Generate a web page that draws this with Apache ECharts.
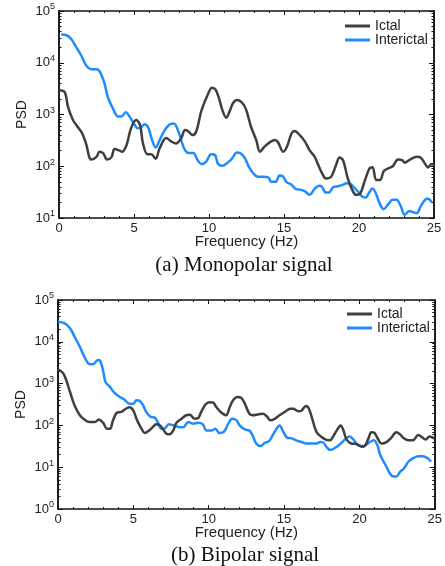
<!DOCTYPE html>
<html>
<head>
<meta charset="utf-8">
<script src="https://cdn.jsdelivr.net/npm/echarts@6/dist/echarts.min.js"></script>
<style>
html, body { margin: 0; padding: 0; background: #fff; }
#main { width: 445px; height: 566px; }
</style>
</head>
<body>
<div id="main"></div>
<script>
var chart = echarts.init(document.getElementById('main'));

// (a) monopolar - ictal
var monoIctalF = [0, 0.38, 0.6, 0.93, 1.2, 1.55, 1.8, 2.15, 2.5, 2.7, 2.95, 3.2, 3.5, 3.7, 4.05, 4.2, 4.5, 4.8, 5.15, 5.4, 5.6, 5.9, 6.15, 6.45, 6.7, 7.15, 7.5, 7.8, 8.15, 8.4, 8.6, 8.9, 9.15, 9.5, 9.95, 10.2, 10.45, 10.7, 10.9, 11.15, 11.4, 11.6, 11.85, 12.15, 12.45, 12.8, 13.15, 13.4, 13.7, 14.05, 14.4, 14.6, 14.95, 15.2, 15.5, 15.7, 16.05, 16.4, 16.7, 17.05, 17.25, 17.55, 17.8, 18.15, 18.5, 18.7, 18.95, 19.25, 19.55, 19.8, 20.05, 20.4, 20.7, 20.9, 21.15, 21.4, 21.65, 21.95, 22.25, 22.6, 22.9, 23.05, 23.4, 23.85, 24.1, 24.4, 24.6, 24.85, 25];
var monoIctalV = [2950, 2700, 1400, 780, 600, 430, 275, 135, 152, 190, 178, 135, 150, 215, 200, 190, 255, 540, 780, 630, 275, 170, 170, 140, 220, 350, 300, 275, 350, 500, 480, 400, 470, 1200, 2550, 3300, 3000, 1900, 1200, 870, 1200, 1650, 1900, 1750, 1300, 580, 320, 190, 240, 290, 320, 290, 190, 240, 430, 480, 400, 300, 205, 152, 112, 72, 58, 63, 112, 148, 128, 58, 35, 28, 29, 54, 91, 96, 54, 54, 81, 91, 100, 135, 130, 117, 135, 152, 148, 112, 95, 110, 105];

// (a) monopolar - interictal
var monoInterF = [0.15, 0.5, 0.8, 1.15, 1.5, 1.8, 2.15, 2.5, 2.7, 3.0, 3.25, 3.6, 3.95, 4.15, 4.45, 4.7, 5.05, 5.25, 5.5, 5.7, 5.95, 6.15, 6.45, 6.7, 7.05, 7.4, 7.65, 7.95, 8.15, 8.4, 8.65, 8.95, 9.25, 9.5, 9.8, 10.15, 10.4, 10.6, 10.9, 11.15, 11.4, 11.6, 11.85, 12.1, 12.4, 12.65, 12.95, 13.25, 13.6, 13.95, 14.15, 14.45, 14.7, 14.95, 15.15, 15.5, 15.8, 16.15, 16.45, 16.7, 17.05, 17.35, 17.5, 17.8, 18.0, 18.25, 18.6, 18.95, 19.15, 19.4, 19.6, 19.95, 20.2, 20.45, 20.65, 20.9, 21.1, 21.4, 21.65, 21.95, 22.25, 22.5, 22.8, 23.05, 23.35, 23.6, 23.85, 24.1, 24.4, 24.6, 24.85];
var monoInterV = [35000, 34000, 29000, 20000, 13500, 9000, 7500, 7500, 6900, 4300, 2200, 1300, 910, 910, 1100, 910, 630, 540, 580, 650, 560, 360, 230, 315, 500, 650, 670, 480, 315, 205, 180, 180, 130, 110, 122, 170, 165, 112, 102, 112, 128, 150, 185, 178, 142, 98, 73, 63, 63, 61, 50, 50, 66, 63, 50, 44, 36, 35, 32, 28, 37, 42, 41, 31, 31, 39, 41, 44, 47, 46, 41, 32, 26, 25, 30, 37, 31, 18.5, 14.8, 18.5, 22.5, 22.5, 16.5, 11.5, 13.6, 13, 12.3, 16.5, 22.5, 23.5, 20];

// (b) bipolar - ictal
var bipIctalF = [0, 0.33, 0.55, 0.8, 1.1, 1.45, 1.75, 2.1, 2.45, 2.7, 3.0, 3.25, 3.45, 3.65, 3.9, 4.2, 4.5, 4.75, 5.0, 5.25, 5.55, 5.75, 6.05, 6.3, 6.5, 6.75, 6.95, 7.2, 7.4, 7.65, 7.85, 8.2, 8.5, 8.75, 9.05, 9.3, 9.5, 9.8, 10.05, 10.3, 10.5, 10.85, 11.15, 11.4, 11.6, 11.9, 12.15, 12.4, 12.7, 12.95, 13.3, 13.6, 13.85, 14.1, 14.4, 14.7, 15.05, 15.4, 15.6, 15.95, 16.15, 16.45, 16.65, 16.9, 17.15, 17.45, 17.8, 18.05, 18.25, 18.5, 18.75, 18.9, 19.15, 19.45, 19.8, 20.15, 20.35, 20.6, 20.8, 21.0, 21.25, 21.45, 21.8, 22.1, 22.45, 22.7, 22.95, 23.25, 23.55, 23.9, 24.1, 24.4, 24.65, 24.95];
var bipIctalV = [2200, 1800, 1200, 630, 300, 175, 138, 120, 120, 138, 115, 83, 83, 132, 200, 210, 250, 270, 225, 132, 83, 66, 76, 92, 106, 100, 83, 63, 61, 76, 115, 145, 175, 180, 145, 150, 210, 320, 360, 350, 275, 200, 175, 275, 390, 480, 460, 330, 190, 175, 185, 190, 165, 132, 145, 175, 210, 250, 250, 218, 225, 290, 250, 132, 70, 54, 45, 44, 54, 76, 100, 83, 46, 37, 36, 31, 32, 49, 69, 66, 46, 37, 40, 50, 69, 61, 49, 44, 44, 59, 54, 46, 54, 49];

// (b) bipolar - interictal
var bipInterF = [0, 0.45, 0.8, 1.1, 1.45, 1.75, 2.1, 2.3, 2.65, 2.8, 3.0, 3.15, 3.45, 3.75, 4.1, 4.4, 4.75, 5.0, 5.2, 5.4, 5.65, 5.85, 6.15, 6.4, 6.65, 6.85, 7.1, 7.35, 7.65, 8.0, 8.3, 8.65, 8.95, 9.3, 9.6, 9.85, 10.2, 10.45, 10.7, 11.0, 11.3, 11.55, 11.85, 12.05, 12.4, 12.7, 12.9, 13.15, 13.45, 13.7, 14.0, 14.25, 14.5, 14.7, 14.95, 15.2, 15.5, 15.8, 16.15, 16.5, 16.8, 17.15, 17.4, 17.6, 17.8, 18.05, 18.25, 18.5, 18.8, 19.15, 19.35, 19.6, 19.85, 20.15, 20.35, 20.7, 20.95, 21.2, 21.35, 21.55, 21.8, 22.0, 22.25, 22.45, 22.7, 22.95, 23.25, 23.55, 23.9, 24.2, 24.55, 24.75];
var bipInterV = [30000, 27600, 21000, 13200, 7600, 4400, 2900, 2900, 3650, 3500, 2000, 1100, 830, 600, 480, 415, 330, 330, 400, 390, 300, 210, 160, 155, 115, 83, 85, 107, 100, 92, 90, 121, 110, 115, 107, 76, 76, 83, 66, 70, 110, 145, 132, 100, 80, 75, 59, 37, 32, 38, 42, 59, 83, 100, 70, 51, 49, 44, 40, 37, 37, 37, 40, 39, 31, 26, 27, 31, 38, 50, 54, 46, 35, 32, 33, 40, 44, 33, 21, 14.8, 10.2, 7.3, 6, 6, 7.8, 9.3, 13.5, 16.2, 18.4, 18.4, 16.2, 13.5];

var seriesNames = ['Ictal', 'Interictal'];
var seriesColors = ['#3f3f3f', '#1e8cff'];
var freqMin = 0, freqMax = 25, freqStep = 5;
var topDecades = [1, 5];   // 10^1 .. 10^5
var botDecades = [0, 5];   // 10^0 .. 10^5
var captions = ['(a) Monopolar signal', '(b) Bipolar signal'];

function pairs(f, v) {
    return f.map(function (x, i) { return [x, v[i]]; });
}
function majorLog(r) {
    var out = [];
    for (var d = r[0]; d <= r[1]; d++) out.push(d);
    return out;
}
function minorLog(r) {
    var out = [];
    for (var d = r[0]; d < r[1]; d++) {
        for (var k = 2; k < 10; k++) out.push(d + Math.log10(k));
    }
    return out;
}

var FONT = '"Liberation Sans", Arial, sans-serif';
var INK = '#111';
var grids = [
    { left: 59, top: 11, width: 375, height: 207 },
    { left: 58, top: 300, width: 377, height: 209 }
];

var xAxes = [], yAxes = [];
[0, 1].forEach(function (g) {
    ['bottom', 'top'].forEach(function (pos) {
        xAxes.push({
            type: 'value', gridIndex: g, position: pos,
            min: freqMin, max: freqMax, interval: freqStep,
            name: pos === 'bottom' ? 'Frequency (Hz)' : '',
            nameLocation: 'middle', nameGap: 16, nameMoveOverlap: false,
            nameTextStyle: { fontFamily: FONT, fontSize: 15, color: '#222' },
            axisLine: { onZero: false, lineStyle: { color: INK, width: 1.5 } },
            axisTick: { inside: true, length: 4, lineStyle: { color: INK, width: 1 } },
            minorTick: { show: true, splitNumber: 5, length: 2, lineStyle: { color: INK, width: 1 } },
            axisLabel: { show: pos === 'bottom', margin: 4, fontFamily: FONT, fontSize: 13, color: '#222' },
            splitLine: { show: false }
        });
    });
    var dec = g === 0 ? topDecades : botDecades;
    // data axis (log)
    yAxes.push({
        type: 'log', gridIndex: g, position: 'left', logBase: 10,
        min: Math.pow(10, dec[0]), max: Math.pow(10, dec[1]),
        name: 'PSD', nameLocation: 'middle', nameGap: 30, nameMoveOverlap: false,
        nameTextStyle: { fontFamily: FONT, fontSize: 14, color: '#222' },
        axisLine: { onZero: false, lineStyle: { color: INK, width: 1.5 } },
        axisTick: { inside: true, length: 5, lineStyle: { color: INK, width: 1 } },
        axisLabel: {
            margin: 4, fontFamily: FONT, fontSize: 13, color: '#222',
            formatter: function (v) { return '10{s|' + Math.round(Math.log10(v)) + '}'; },
            rich: { s: { fontFamily: FONT, fontSize: 9, color: '#222', verticalAlign: 'top', padding: [0, 0, 8, 0] } }
        },
        splitLine: { show: false }
    });
    // decorative tick axes in log10 space
    [['left', minorLog(dec), 2.5], ['right', majorLog(dec), 5], ['right', minorLog(dec), 2.5]].forEach(function (t) {
        yAxes.push({
            type: 'value', gridIndex: g, position: t[0],
            min: dec[0], max: dec[1],
            axisLine: { show: true, onZero: false, lineStyle: { color: INK, width: 1.5 } },
            axisTick: { show: true, inside: true, length: t[2], customValues: t[1], lineStyle: { color: INK, width: 1 } },
            axisLabel: { show: false },
            splitLine: { show: false }
        });
    });
});

var data = [
    [pairs(monoIctalF, monoIctalV), pairs(monoInterF, monoInterV)],
    [pairs(bipIctalF, bipIctalV), pairs(bipInterF, bipInterV)]
];
var series = [];
[0, 1].forEach(function (g) {
    [0, 1].forEach(function (s) {
        series.push({
            name: seriesNames[s], type: 'line',
            xAxisIndex: g * 2, yAxisIndex: g * 4,
            data: data[g][s], showSymbol: false, smooth: 0.35,
            lineStyle: { color: seriesColors[s], width: 2.5 },
            itemStyle: { color: seriesColors[s] },
            z: s === 0 ? 3 : 2
        });
    });
});

var legendBase = {
    orient: 'vertical', align: 'left', icon: 'rect', padding: 0,
    itemWidth: 25, itemHeight: 3, itemGap: 0,
    textStyle: { fontFamily: FONT, fontSize: 14, color: '#222' },
    data: seriesNames, selectedMode: false
};

chart.setOption({
    backgroundColor: '#fff',
    animation: false,
    title: [
        { text: captions[0], left: 239, top: 250, textAlign: 'center',
          textStyle: { fontFamily: '"Liberation Serif", "Times New Roman", serif', fontSize: 21, fontWeight: 'normal', color: '#111' } },
        { text: captions[1], left: 240, top: 540, textAlign: 'center',
          textStyle: { fontFamily: '"Liberation Serif", "Times New Roman", serif', fontSize: 21, fontWeight: 'normal', color: '#111' } }
    ],
    legend: [
        Object.assign({ left: 345, top: 19 }, legendBase),
        Object.assign({ left: 347, top: 307 }, legendBase)
    ],
    grid: grids,
    xAxis: xAxes,
    yAxis: yAxes,
    series: series
});
</script>
</body>
</html>
